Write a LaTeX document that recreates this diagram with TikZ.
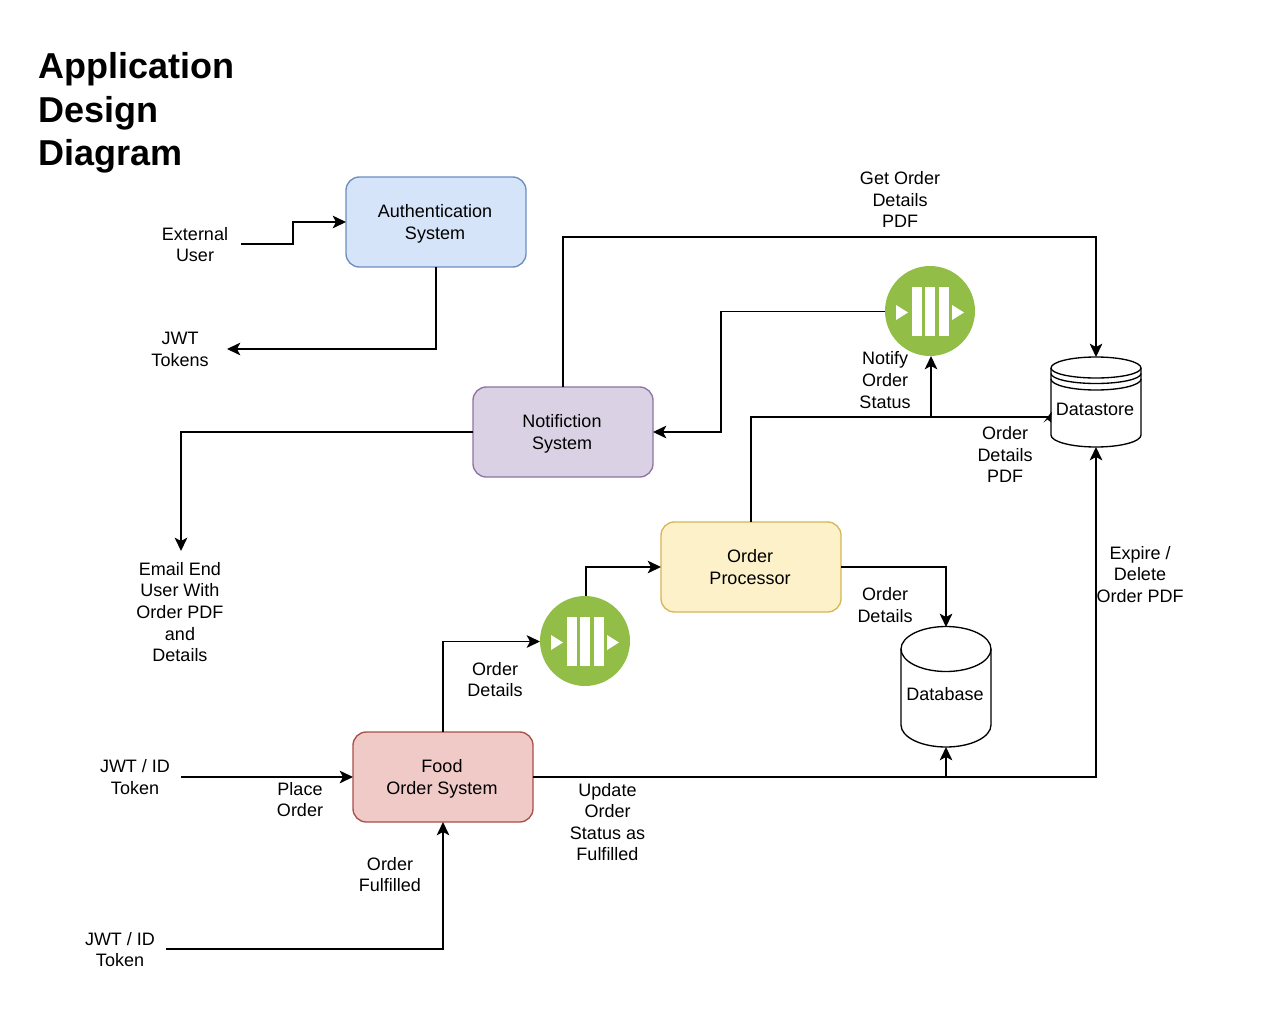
\documentclass[tikz,border=0pt]{standalone}
\usepackage{fontspec}
\setmainfont{Liberation Sans}
\usetikzlibrary{arrows.meta}
\definecolor{authF}{HTML}{D6E4F9}\definecolor{authD}{HTML}{6C8EBF}
\definecolor{notF}{HTML}{DAD2E4}\definecolor{notD}{HTML}{8F72A3}
\definecolor{ordF}{HTML}{FCF1C9}\definecolor{ordD}{HTML}{D6B656}
\definecolor{foodF}{HTML}{F0CAC7}\definecolor{foodD}{HTML}{A94F4A}
\definecolor{qgreen}{HTML}{92BE47}
\newcommand{\dn}[2][-1.5pt]{\raisebox{#1}[\height][\depth]{#2\kern1.5pt}}
\tikzset{
 lbl/.style={align=center,inner sep=0pt,font=\fontsize{13.5}{16.2}\selectfont},
 svc/.style={draw=#1,line width=1pt,rounded corners=10pt,minimum width=135pt,minimum height=67.5pt,inner sep=0pt,outer sep=0pt,align=center,font=\fontsize{13.5}{16.3}\selectfont},
 cyl/.style={minimum width=67.5pt,inner sep=0pt,outer sep=0pt,align=center,font=\fontsize{13.5}{16.3}\selectfont},
 qnode/.style={circle,fill=qgreen,minimum size=67.5pt,inner sep=0pt,outer sep=0pt},
 conn/.style={line width=1pt,-{Stealth[length=10pt,width=9.5pt,inset=2.5pt]}},
 plainconn/.style={line width=1pt},
 cylline/.style={line width=1pt},
 pics/qmark/.style={code={
   \fill[white] (-18,-24) rectangle (-8,25);
   \fill[white] (-5,-24) rectangle (5,25);
   \fill[white] (9,-24) rectangle (19,25);
   \fill[white] (-34,-6) -- (-22,1.5) -- (-34,9) -- cycle;
   \fill[white] (22,-6) -- (34,1.5) -- (22,9) -- cycle;
 }}
}
\begin{document}
\begin{tikzpicture}[x=0.75pt,y=-0.75pt]
\useasboundingbox (0,0) rectangle (1274,1024);

\node[anchor=west,align=left,inner sep=0pt,font=\fontsize{27}{32.6}\bfseries\selectfont] (title) at (38,113) {Application\\Design\\Diagram};

\node[svc=authD,fill=authF] (auth) at (436,222) {\dn{Authentication}\\\dn{System}};
\node[svc=notD,fill=notF] (notif) at (563,432) {\dn{Notifiction}\\\dn{System}};
\node[svc=ordD,fill=ordF] (proc) at (751,567) {\dn[0pt]{Order}\\\dn[0pt]{Processor}};
\node[svc=foodD,fill=foodF] (food) at (443,777) {\dn{Food}\\\dn{Order System}};

\node[qnode] (q1) at (930,311) {};
\pic at (q1.center) {qmark};
\node[qnode] (q2) at (585,641) {};
\pic at (q2.center) {qmark};

% Datastore
\node[cyl,minimum height=67.5pt] (dstore) at (1096,402) {};
\draw[cylline,fill=white] (1051,368) arc[start angle=180,end angle=360,x radius=45,y radius=11] -- (1141,435) arc[start angle=0,end angle=180,x radius=45,y radius=12] -- cycle;
\draw[cylline] (1051,368) arc[start angle=180,end angle=0,x radius=45,y radius=10];
\draw[cylline] (1051,373.5) arc[start angle=180,end angle=0,x radius=45,y radius=10];
\draw[cylline] (1051,379) arc[start angle=180,end angle=0,x radius=45,y radius=11];
\node[lbl] (dstoretxt) at (1095,409) {Datastore};

% Database
\node[cyl,minimum height=90pt] (dbase) at (946,687) {};
\draw[cylline,fill=white] (901,649) arc[start angle=180,end angle=360,x radius=45,y radius=22.5] -- (991,725) arc[start angle=0,end angle=180,x radius=45,y radius=22] -- cycle;
\draw[cylline] (901,649) arc[start angle=180,end angle=0,x radius=45,y radius=22.5];
\node[lbl] (dbasetxt) at (945,694) {Database};

% Labels
\node[lbl] (lExt) at (195,244.5) {External\\User};
\node[lbl] (lJwt) at (180,349.5) {JWT\\Tokens};
\node[lbl] (lGet) at (900,199.5) {Get Order\\Details\\PDF};
\node[lbl] (lNot) at (885,380) {Notify\\Order\\Status};
\node[lbl] (lOdp) at (1005,454.5) {Order\\Details\\PDF};
\node[lbl] (lExp) at (1140,574.5) {Expire /\\Delete\\Order PDF};
\node[lbl] (lEmail) at (180,612) {Email End\\User With\\Order PDF\\and\\Details};
\node[lbl] (lOd1) at (885,605) {Order\\Details};
\node[lbl] (lOd2) at (495,679.5) {Order\\Details};
\node[lbl] (lPlace) at (300,799.5) {Place\\Order};
\node[lbl] (lId1) at (135,777) {JWT / ID\\Token};
\node[lbl] (lFul) at (390,874.5) {Order\\Fulfilled};
\node[lbl] (lId2) at (120,949.5) {JWT / ID\\Token};
\node[lbl] (lUpd) at (607.5,822) {Update\\Order\\Status as\\Fulfilled};

% Free ends and junctions
\coordinate (extS) at (241,244);
\coordinate (jwtE) at (227,349);
\coordinate (emailE) at (181,551);
\coordinate (id1S) at (181,777);
\coordinate (id2S) at (166,949);
\coordinate (dsW) at (1051,417);
\coordinate (jn) at (931,417);
\coordinate (q1S) at (931,356);
\coordinate (q2N) at (586,596);
\coordinate (q1W) at (885,311.5);
\coordinate (q2W) at (540,641.5);

% Connectors
\draw[conn] (extS) -- (293,244) -- (293,222) -- (auth.west);
\draw[conn] (auth.south) -- (436,349) -- (jwtE);
\draw[conn] (notif.north) -- (563,237) -- (1096,237) -- (dstore.north);
\draw[conn] (q1W) -- (721,311.5) -- (721,432) -- (notif.east);
\draw[conn] (notif.west) -- (181,432) -- (emailE);
\draw[plainconn] (proc.north) -- (751,417) -- (dsW);
\fill (1051.7,411.5) -- (1043.5,422.5) -- (1047.5,419.5) -- (1051,422.5) -- cycle;
\draw[conn] (jn) -- (q1S);
\draw[conn] (proc.east) -- (946,567) -- (dbase.north);
\draw[conn] (food.north) -- (443,641.5) -- (q2W);
\draw[conn] (q2N) -- (586,567) -- (proc.west);
\draw[conn] (food.east) -- (946,777) -- (dbase.south);
\draw[conn] (food.east) -- (1096,777) -- (dstore.south);
\draw[conn] (id1S) -- (food.west);
\draw[conn] (id2S) -- (443,949) -- (food.south);
\end{tikzpicture}
\end{document}
